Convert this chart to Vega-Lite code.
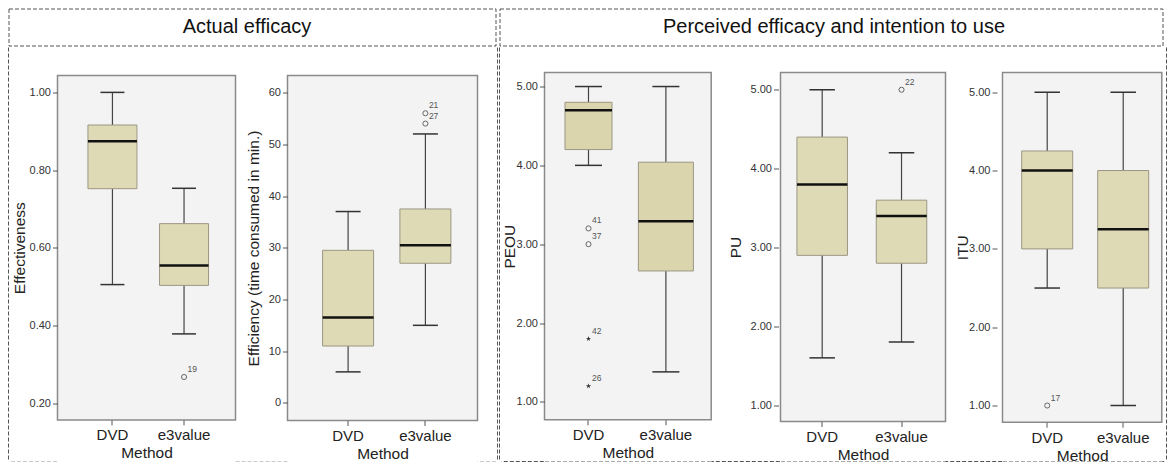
{
  "$schema": "https://vega.github.io/schema/vega-lite/v6.json",
  "background": "white",
  "padding": {"left": 7.5, "top": 7.5, "right": 0, "bottom": 0},
  "config": {
    "font": "Liberation Sans",
    "concat": {"spacing": 0},
    "view": {"stroke": null},
    "axis": {"labelFont": "Liberation Sans", "titleFont": "Liberation Sans", "labelColor": "#222", "titleColor": "#222", "titleFontWeight": "normal", "tickColor": "#555", "domain": false, "grid": false},
    "axisY": {"labelFontSize": 11, "titleFontSize": 15.5, "tickSize": 5, "labelPadding": 2, "labelColor": "#333"},
    "axisX": {"labelFontSize": 15, "titleFontSize": 15.5, "tickSize": 5, "labelPadding": 3, "titlePadding": 3, "labelAngle": 0}
  },
  "datasets": {
    "effBox": [{"Method": "DVD", "lo": 0.505, "q1": 0.752, "med": 0.874, "q3": 0.916, "hi": 1.0}, {"Method": "e3value", "lo": 0.378, "q1": 0.503, "med": 0.554, "q3": 0.662, "hi": 0.753}],
    "effOut": [{"Method": "e3value", "value": 0.267, "case": "19", "kind": "outlier"}],
    "timeBox": [{"Method": "DVD", "lo": 6, "q1": 11, "med": 16.5, "q3": 29.5, "hi": 37}, {"Method": "e3value", "lo": 15, "q1": 27, "med": 30.5, "q3": 37.5, "hi": 52}],
    "timeOut": [{"Method": "e3value", "value": 54, "case": "27", "kind": "outlier"}, {"Method": "e3value", "value": 56, "case": "21", "kind": "outlier"}],
    "peouBox": [{"Method": "DVD", "lo": 4.0, "q1": 4.2, "med": 4.7, "q3": 4.8, "hi": 5.0}, {"Method": "e3value", "lo": 1.38, "q1": 2.66, "med": 3.29, "q3": 4.04, "hi": 5.0}],
    "peouOut": [{"Method": "DVD", "value": 3.2, "case": "41", "kind": "outlier"}, {"Method": "DVD", "value": 3.0, "case": "37", "kind": "outlier"}, {"Method": "DVD", "value": 1.8, "case": "42", "kind": "extreme"}, {"Method": "DVD", "value": 1.2, "case": "26", "kind": "extreme"}],
    "puBox": [{"Method": "DVD", "lo": 1.6, "q1": 2.9, "med": 3.8, "q3": 4.4, "hi": 5.0}, {"Method": "e3value", "lo": 1.8, "q1": 2.8, "med": 3.4, "q3": 3.6, "hi": 4.2}],
    "puOut": [{"Method": "e3value", "value": 5.0, "case": "22", "kind": "outlier"}],
    "ituBox": [{"Method": "DVD", "lo": 2.5, "q1": 3.0, "med": 4.0, "q3": 4.25, "hi": 5.0}, {"Method": "e3value", "lo": 1.0, "q1": 2.5, "med": 3.25, "q3": 4.0, "hi": 5.0}],
    "ituOut": [{"Method": "DVD", "value": 1.0, "case": "17", "kind": "outlier"}],
    "edge": [{"edge": 0}],
    "blank": [{"blank": 0}]
  },
  "spacing": 0,
  "hconcat": [
    {
      "spacing": 0,
      "vconcat": [
        {
          "width": 487, "height": 37,
          "view": {"stroke": "#555", "strokeDash": [4, 2], "strokeWidth": 1},
          "data": {"values": [{"section": "Actual efficacy"}]},
          "mark": {"type": "text", "fontSize": 20, "color": "#111", "dx": -5},
          "encoding": {"text": {"field": "section"}}
        },
        {
          "spacing": 0,
          "hconcat": [
            {"width": 1, "height": 413, "data": {"name": "edge"}, "mark": {"type": "rule", "color": "#555", "strokeDash": [4, 2]}, "encoding": {"x": {"field": "edge", "type": "quantitative", "scale": {"domain": [0, 1]}, "axis": null}}},
            {
              "spacing": 0,
              "vconcat": [
                {"width": 1, "height": 26.3, "data": {"name": "blank"}, "mark": {"type": "point", "size": 0, "opacity": 0}},
                {
                  "spacing": 0,
                  "bounds": "flush",
                  "hconcat": [
                    {"width": 46.5, "height": 386.7, "data": {"name": "edge"}, "mark": {"type": "rule", "color": "#555", "strokeDash": [4, 2]}, "encoding": {"y": {"field": "edge", "type": "quantitative", "scale": {"domain": [0, 1]}, "axis": null}}},
                    {
                      "width": 178, "height": 344.4,
                      "view": {"stroke": "#8a8a8a", "strokeWidth": 1.5, "fill": "#f3f3f3"},
                      "resolve": {"axis": {"x": "independent"}},
                      "layer": [
                        {
                          "encoding": {"x": {"field": "Method", "type": "nominal", "title": "Method", "scale": {"domain": ["DVD", "e3value"], "paddingInner": 0, "paddingOuter": 0.243, "align": 0.55}}},
                          "layer": [
                            {"data": {"name": "effBox"}, "mark": {"type": "rule", "color": "#444", "strokeWidth": 1.2},
                             "encoding": {"y": {"field": "lo", "type": "quantitative", "title": "Effectiveness", "scale": {"domain": [0.1565, 1.0435], "nice": false, "zero": false}, "axis": {"values": [0.2, 0.4, 0.6, 0.8, 1.0], "format": ".2f", "titlePadding": 2}}, "y2": {"field": "q1"}}},
                            {"data": {"name": "effBox"}, "mark": {"type": "rule", "color": "#444", "strokeWidth": 1.2},
                             "encoding": {"y": {"field": "q3", "type": "quantitative", "title": "Effectiveness"}, "y2": {"field": "hi"}}},
                            {"data": {"name": "effBox"}, "mark": {"type": "bar", "size": 49, "fill": "#dfdab6", "stroke": "#9b9682", "strokeWidth": 1},
                             "encoding": {"y": {"field": "q1", "type": "quantitative", "title": "Effectiveness"}, "y2": {"field": "q3"}}},
                            {"data": {"name": "effBox"}, "mark": {"type": "tick", "orient": "horizontal", "size": 49, "thickness": 2.5, "color": "#111", "opacity": 1},
                             "encoding": {"y": {"field": "med", "type": "quantitative", "title": "Effectiveness"}}},
                            {"data": {"name": "effBox"}, "mark": {"type": "tick", "orient": "horizontal", "size": 24, "thickness": 1.5, "color": "#333", "opacity": 1},
                             "encoding": {"y": {"field": "lo", "type": "quantitative", "title": "Effectiveness"}}},
                            {"data": {"name": "effBox"}, "mark": {"type": "tick", "orient": "horizontal", "size": 24, "thickness": 1.5, "color": "#333", "opacity": 1},
                             "encoding": {"y": {"field": "hi", "type": "quantitative", "title": "Effectiveness"}}},
                            {"data": {"name": "effOut"}, "mark": {"type": "point", "shape": "circle", "filled": false, "size": 26, "color": "#666", "strokeWidth": 1, "opacity": 1},
                             "encoding": {"y": {"field": "value", "type": "quantitative", "title": "Effectiveness"}}},
                            {"data": {"name": "effOut"}, "mark": {"type": "text", "align": "left", "dx": 3.5, "dy": -8, "fontSize": 8.5, "color": "#555"},
                             "encoding": {"y": {"field": "value", "type": "quantitative", "title": "Effectiveness"}, "text": {"field": "case"}}}
                          ]
                        },
                        {"data": {"name": "effBox"}, "mark": {"type": "point", "size": 0, "opacity": 0},
                         "encoding": {"x": {"field": "Method", "type": "nominal", "axis": {"orient": "bottom", "offset": 42.3, "domain": true, "domainDash": [4, 2], "domainColor": "#555", "domainWidth": 1, "labels": false, "ticks": false, "title": null}}}}
                      ]
                    },
                    {"width": 52, "height": 386.7, "data": {"name": "edge"}, "mark": {"type": "rule", "color": "#555", "strokeDash": [4, 2]}, "encoding": {"y": {"field": "edge", "type": "quantitative", "scale": {"domain": [0, 1]}, "axis": null}}},
                    {
                      "width": 190, "height": 345,
                      "view": {"stroke": "#8a8a8a", "strokeWidth": 1.5, "fill": "#f3f3f3"},
                      "resolve": {"axis": {"x": "independent"}},
                      "layer": [
                        {
                          "encoding": {"x": {"field": "Method", "type": "nominal", "title": "Method", "scale": {"domain": ["DVD", "e3value"], "paddingInner": 0, "paddingOuter": 0.229, "align": 0.62}}},
                          "layer": [
                            {"data": {"name": "timeBox"}, "mark": {"type": "rule", "color": "#444", "strokeWidth": 1.2},
                             "encoding": {"y": {"field": "lo", "type": "quantitative", "title": "Efficiency (time consumed in min.)", "scale": {"domain": [-3.4, 63.3], "nice": false, "zero": false}, "axis": {"values": [0, 10, 20, 30, 40, 50, 60], "format": "d", "titlePadding": 7}}, "y2": {"field": "q1"}}},
                            {"data": {"name": "timeBox"}, "mark": {"type": "rule", "color": "#444", "strokeWidth": 1.2},
                             "encoding": {"y": {"field": "q3", "type": "quantitative", "title": "Efficiency (time consumed in min.)"}, "y2": {"field": "hi"}}},
                            {"data": {"name": "timeBox"}, "mark": {"type": "bar", "size": 51, "fill": "#dfdab6", "stroke": "#9b9682", "strokeWidth": 1},
                             "encoding": {"y": {"field": "q1", "type": "quantitative", "title": "Efficiency (time consumed in min.)"}, "y2": {"field": "q3"}}},
                            {"data": {"name": "timeBox"}, "mark": {"type": "tick", "orient": "horizontal", "size": 51, "thickness": 2.5, "color": "#111", "opacity": 1},
                             "encoding": {"y": {"field": "med", "type": "quantitative", "title": "Efficiency (time consumed in min.)"}}},
                            {"data": {"name": "timeBox"}, "mark": {"type": "tick", "orient": "horizontal", "size": 25, "thickness": 1.5, "color": "#333", "opacity": 1},
                             "encoding": {"y": {"field": "lo", "type": "quantitative", "title": "Efficiency (time consumed in min.)"}}},
                            {"data": {"name": "timeBox"}, "mark": {"type": "tick", "orient": "horizontal", "size": 25, "thickness": 1.5, "color": "#333", "opacity": 1},
                             "encoding": {"y": {"field": "hi", "type": "quantitative", "title": "Efficiency (time consumed in min.)"}}},
                            {"data": {"name": "timeOut"}, "mark": {"type": "point", "shape": "circle", "filled": false, "size": 26, "color": "#666", "strokeWidth": 1, "opacity": 1},
                             "encoding": {"y": {"field": "value", "type": "quantitative", "title": "Efficiency (time consumed in min.)"}}},
                            {"data": {"name": "timeOut"}, "mark": {"type": "text", "align": "left", "dx": 3.5, "dy": -8, "fontSize": 8.5, "color": "#555"},
                             "encoding": {"y": {"field": "value", "type": "quantitative", "title": "Efficiency (time consumed in min.)"}, "text": {"field": "case"}}}
                          ]
                        },
                        {"data": {"name": "timeBox"}, "mark": {"type": "point", "size": 0, "opacity": 0},
                         "encoding": {"x": {"field": "Method", "type": "nominal", "axis": {"orient": "bottom", "offset": 41.7, "domain": true, "domainDash": [4, 2], "domainColor": "#555", "domainWidth": 1, "labels": false, "ticks": false, "title": null}}}}
                      ]
                    },
                    {"width": 18.5, "height": 386.7, "data": {"name": "edge"}, "mark": {"type": "rule", "color": "#555", "strokeDash": [4, 2]}, "encoding": {"y": {"field": "edge", "type": "quantitative", "scale": {"domain": [0, 1]}, "axis": null}}}
                  ]
                }
              ]
            },
            {"width": 1, "height": 413, "data": {"name": "edge"}, "mark": {"type": "rule", "color": "#555", "strokeDash": [4, 2]}, "encoding": {"x": {"field": "edge", "type": "quantitative", "scale": {"domain": [0, 1]}, "axis": null}}}
          ]
        }
      ]
    },
    {
      "spacing": 0,
      "vconcat": [
        {
          "width": 663, "height": 37,
          "view": {"stroke": "#555", "strokeDash": [4, 2], "strokeWidth": 1},
          "data": {"values": [{"section": "Perceived efficacy and intention to use"}]},
          "mark": {"type": "text", "fontSize": 20, "color": "#111", "dx": 3},
          "encoding": {"text": {"field": "section"}}
        },
        {
          "spacing": 0,
          "hconcat": [
            {"width": 1, "height": 413, "data": {"name": "edge"}, "mark": {"type": "rule", "color": "#555", "strokeDash": [4, 2]}, "encoding": {"x": {"field": "edge", "type": "quantitative", "scale": {"domain": [0, 1]}, "axis": null}}},
            {
              "spacing": 0,
              "vconcat": [
                {"width": 1, "height": 24, "data": {"name": "blank"}, "mark": {"type": "point", "size": 0, "opacity": 0}},
                {
                  "spacing": 0,
                  "bounds": "flush",
                  "hconcat": [
                    {"width": 42.3, "height": 389, "data": {"name": "edge"}, "mark": {"type": "rule", "color": "#555", "strokeDash": [4, 2]}, "encoding": {"y": {"field": "edge", "type": "quantitative", "scale": {"domain": [0, 1]}, "axis": null}}},
                    {
                      "width": 166.7, "height": 347.3,
                      "view": {"stroke": "#8a8a8a", "strokeWidth": 1.5, "fill": "#f3f3f3"},
                      "resolve": {"axis": {"x": "independent"}},
                      "layer": [
                        {
                          "encoding": {"x": {"field": "Method", "type": "nominal", "title": "Method", "scale": {"domain": ["DVD", "e3value"], "paddingInner": 0, "paddingOuter": 0.077, "align": 0.445}}},
                          "layer": [
                            {"data": {"name": "peouBox"}, "mark": {"type": "rule", "color": "#444", "strokeWidth": 1.2},
                             "encoding": {"y": {"field": "lo", "type": "quantitative", "title": "PEOU", "scale": {"domain": [0.772, 5.178], "nice": false, "zero": false}, "axis": {"values": [1, 2, 3, 4, 5], "format": ".2f", "titlePadding": -1}}, "y2": {"field": "q1"}}},
                            {"data": {"name": "peouBox"}, "mark": {"type": "rule", "color": "#444", "strokeWidth": 1.2},
                             "encoding": {"y": {"field": "q3", "type": "quantitative", "title": "PEOU"}, "y2": {"field": "hi"}}},
                            {"data": {"name": "peouBox"}, "mark": {"type": "bar", "fill": "#dbd5ae", "stroke": "#9b9682", "strokeWidth": 1},
                             "encoding": {"y": {"field": "q1", "type": "quantitative", "title": "PEOU"}, "y2": {"field": "q3"}, "size": {"field": "Method", "type": "ordinal", "scale": {"domain": ["DVD", "e3value"], "range": [47, 55]}, "legend": null}}},
                            {"data": {"name": "peouBox"}, "mark": {"type": "tick", "orient": "horizontal", "thickness": 2.5, "color": "#111", "opacity": 1},
                             "encoding": {"y": {"field": "med", "type": "quantitative", "title": "PEOU"}, "size": {"field": "Method", "type": "ordinal", "scale": {"domain": ["DVD", "e3value"], "range": [47, 55]}, "legend": null}}},
                            {"data": {"name": "peouBox"}, "mark": {"type": "tick", "orient": "horizontal", "size": 27, "thickness": 1.5, "color": "#333", "opacity": 1},
                             "encoding": {"y": {"field": "lo", "type": "quantitative", "title": "PEOU"}}},
                            {"data": {"name": "peouBox"}, "mark": {"type": "tick", "orient": "horizontal", "size": 27, "thickness": 1.5, "color": "#333", "opacity": 1},
                             "encoding": {"y": {"field": "hi", "type": "quantitative", "title": "PEOU"}}},
                            {"data": {"name": "peouOut"}, "transform": [{"filter": "datum.kind == 'outlier'"}], "mark": {"type": "point", "shape": "circle", "filled": false, "size": 26, "color": "#666", "strokeWidth": 1, "opacity": 1},
                             "encoding": {"y": {"field": "value", "type": "quantitative", "title": "PEOU"}}},
                            {"data": {"name": "peouOut"}, "transform": [{"filter": "datum.kind == 'extreme'"}], "mark": {"type": "point", "shape": "M0,-1L0.2245,-0.309L0.951,-0.309L0.363,0.118L0.588,0.809L0,0.382L-0.588,0.809L-0.363,0.118L-0.951,-0.309L-0.2245,-0.309Z", "filled": true, "size": 30, "color": "#333", "opacity": 1},
                             "encoding": {"y": {"field": "value", "type": "quantitative", "title": "PEOU"}}},
                            {"data": {"name": "peouOut"}, "mark": {"type": "text", "align": "left", "dx": 3.5, "dy": -8, "fontSize": 8.5, "color": "#555"},
                             "encoding": {"y": {"field": "value", "type": "quantitative", "title": "PEOU"}, "text": {"field": "case"}}}
                          ]
                        },
                        {"data": {"name": "peouBox"}, "mark": {"type": "point", "size": 0, "opacity": 0},
                         "encoding": {"x": {"field": "Method", "type": "nominal", "axis": {"orient": "bottom", "offset": 41.7, "domain": true, "domainDash": [4, 2], "domainColor": "#555", "domainWidth": 1, "labels": false, "ticks": false, "title": null}}}}
                      ]
                    },
                    {"width": 68.3, "height": 389, "data": {"name": "edge"}, "mark": {"type": "rule", "color": "#555", "strokeDash": [4, 2]}, "encoding": {"y": {"field": "edge", "type": "quantitative", "scale": {"domain": [0, 1]}, "axis": null}}},
                    {
                      "width": 165, "height": 349,
                      "view": {"stroke": "#8a8a8a", "strokeWidth": 1.5, "fill": "#f3f3f3"},
                      "resolve": {"axis": {"x": "independent"}},
                      "layer": [
                        {
                          "encoding": {"x": {"field": "Method", "type": "nominal", "title": "Method", "scale": {"domain": ["DVD", "e3value"], "paddingInner": 0, "paddingOuter": 0.04, "align": 0.32}}},
                          "layer": [
                            {"data": {"name": "puBox"}, "mark": {"type": "rule", "color": "#444", "strokeWidth": 1.2},
                             "encoding": {"y": {"field": "lo", "type": "quantitative", "title": "PU", "scale": {"domain": [0.793, 5.219], "nice": false, "zero": false}, "axis": {"values": [1, 2, 3, 4, 5], "format": ".2f", "titlePadding": 7, "offset": 2}}, "y2": {"field": "q1"}}},
                            {"data": {"name": "puBox"}, "mark": {"type": "rule", "color": "#444", "strokeWidth": 1.2},
                             "encoding": {"y": {"field": "q3", "type": "quantitative", "title": "PU"}, "y2": {"field": "hi"}}},
                            {"data": {"name": "puBox"}, "mark": {"type": "bar", "size": 50.5, "fill": "#dfdab6", "stroke": "#9b9682", "strokeWidth": 1},
                             "encoding": {"y": {"field": "q1", "type": "quantitative", "title": "PU"}, "y2": {"field": "q3"}}},
                            {"data": {"name": "puBox"}, "mark": {"type": "tick", "orient": "horizontal", "size": 50.5, "thickness": 2.5, "color": "#111", "opacity": 1},
                             "encoding": {"y": {"field": "med", "type": "quantitative", "title": "PU"}}},
                            {"data": {"name": "puBox"}, "mark": {"type": "tick", "orient": "horizontal", "size": 25.5, "thickness": 1.5, "color": "#333", "opacity": 1},
                             "encoding": {"y": {"field": "lo", "type": "quantitative", "title": "PU"}}},
                            {"data": {"name": "puBox"}, "mark": {"type": "tick", "orient": "horizontal", "size": 25.5, "thickness": 1.5, "color": "#333", "opacity": 1},
                             "encoding": {"y": {"field": "hi", "type": "quantitative", "title": "PU"}}},
                            {"data": {"name": "puOut"}, "mark": {"type": "point", "shape": "circle", "filled": false, "size": 26, "color": "#666", "strokeWidth": 1, "opacity": 1},
                             "encoding": {"y": {"field": "value", "type": "quantitative", "title": "PU"}}},
                            {"data": {"name": "puOut"}, "mark": {"type": "text", "align": "left", "dx": 3.5, "dy": -8, "fontSize": 8.5, "color": "#555"},
                             "encoding": {"y": {"field": "value", "type": "quantitative", "title": "PU"}, "text": {"field": "case"}}}
                          ]
                        },
                        {"data": {"name": "puBox"}, "mark": {"type": "point", "size": 0, "opacity": 0},
                         "encoding": {"x": {"field": "Method", "type": "nominal", "axis": {"orient": "bottom", "offset": 40, "domain": true, "domainDash": [4, 2], "domainColor": "#555", "domainWidth": 1, "labels": false, "ticks": false, "title": null}}}}
                      ]
                    },
                    {"width": 56.7, "height": 389, "data": {"name": "edge"}, "mark": {"type": "rule", "color": "#555", "strokeDash": [4, 2]}, "encoding": {"y": {"field": "edge", "type": "quantitative", "scale": {"domain": [0, 1]}, "axis": null}}},
                    {
                      "width": 159.3, "height": 349.7,
                      "view": {"stroke": "#8a8a8a", "strokeWidth": 1.5, "fill": "#f3f3f3"},
                      "resolve": {"axis": {"x": "independent"}},
                      "layer": [
                        {
                          "encoding": {"x": {"field": "Method", "type": "nominal", "title": "Method", "scale": {"domain": ["DVD", "e3value"], "paddingInner": 0, "paddingOuter": 0.048, "align": 0.92}}},
                          "layer": [
                            {"data": {"name": "ituBox"}, "mark": {"type": "rule", "color": "#444", "strokeWidth": 1.2},
                             "encoding": {"y": {"field": "lo", "type": "quantitative", "title": "ITU", "scale": {"domain": [0.787, 5.252], "nice": false, "zero": false}, "axis": {"values": [1, 2, 3, 4, 5], "format": ".2f", "titlePadding": -2, "offset": 5.5}}, "y2": {"field": "q1"}}},
                            {"data": {"name": "ituBox"}, "mark": {"type": "rule", "color": "#444", "strokeWidth": 1.2},
                             "encoding": {"y": {"field": "q3", "type": "quantitative", "title": "ITU"}, "y2": {"field": "hi"}}},
                            {"data": {"name": "ituBox"}, "mark": {"type": "bar", "size": 51, "fill": "#dfdab6", "stroke": "#9b9682", "strokeWidth": 1},
                             "encoding": {"y": {"field": "q1", "type": "quantitative", "title": "ITU"}, "y2": {"field": "q3"}}},
                            {"data": {"name": "ituBox"}, "mark": {"type": "tick", "orient": "horizontal", "size": 51, "thickness": 2.5, "color": "#111", "opacity": 1},
                             "encoding": {"y": {"field": "med", "type": "quantitative", "title": "ITU"}}},
                            {"data": {"name": "ituBox"}, "mark": {"type": "tick", "orient": "horizontal", "size": 25.5, "thickness": 1.5, "color": "#333", "opacity": 1},
                             "encoding": {"y": {"field": "lo", "type": "quantitative", "title": "ITU"}}},
                            {"data": {"name": "ituBox"}, "mark": {"type": "tick", "orient": "horizontal", "size": 25.5, "thickness": 1.5, "color": "#333", "opacity": 1},
                             "encoding": {"y": {"field": "hi", "type": "quantitative", "title": "ITU"}}},
                            {"data": {"name": "ituOut"}, "mark": {"type": "point", "shape": "circle", "filled": false, "size": 26, "color": "#666", "strokeWidth": 1, "opacity": 1},
                             "encoding": {"y": {"field": "value", "type": "quantitative", "title": "ITU"}}},
                            {"data": {"name": "ituOut"}, "mark": {"type": "text", "align": "left", "dx": 3.5, "dy": -8, "fontSize": 8.5, "color": "#555"},
                             "encoding": {"y": {"field": "value", "type": "quantitative", "title": "ITU"}, "text": {"field": "case"}}}
                          ]
                        },
                        {"data": {"name": "ituBox"}, "mark": {"type": "point", "size": 0, "opacity": 0},
                         "encoding": {"x": {"field": "Method", "type": "nominal", "axis": {"orient": "bottom", "offset": 39.3, "domain": true, "domainDash": [4, 2], "domainColor": "#555", "domainWidth": 1, "labels": false, "ticks": false, "title": null}}}}
                      ]
                    },
                    {"width": 1.7, "height": 389, "data": {"name": "edge"}, "mark": {"type": "rule", "color": "#555", "strokeDash": [4, 2]}, "encoding": {"y": {"field": "edge", "type": "quantitative", "scale": {"domain": [0, 1]}, "axis": null}}}
                  ]
                }
              ]
            },
            {"width": 1, "height": 413, "data": {"name": "edge"}, "mark": {"type": "rule", "color": "#555", "strokeDash": [4, 2]}, "encoding": {"x": {"field": "edge", "type": "quantitative", "scale": {"domain": [0, 1]}, "axis": null}}}
          ]
        }
      ]
    }
  ]
}
